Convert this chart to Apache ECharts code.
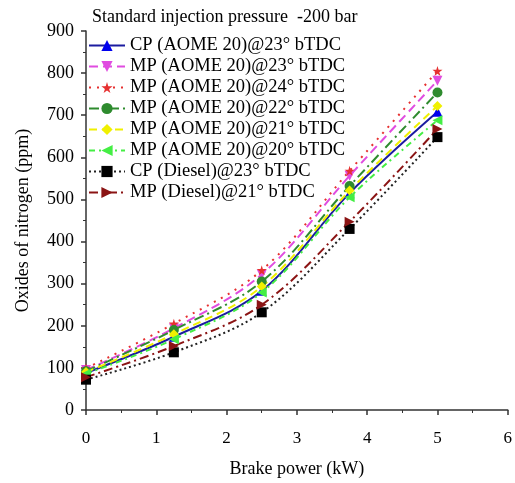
<!DOCTYPE html>
<html>
<head>
<meta charset="utf-8">
<script src="https://cdn.jsdelivr.net/npm/echarts@6/dist/echarts.min.js"></script>
<style>
  html, body { margin: 0; padding: 0; background: #fff; }
  #chart { width: 515px; height: 483px; }
</style>
</head>
<body>
<div id="chart"></div>
<script>
// brake power (kW) and NOx (ppm)
const brakePower = [0, 1.25, 2.5, 3.75, 5];
const cpAome23 = [88, 174, 283, 515, 708];
const mpAome23 = [95, 194, 322, 556, 782];
const mpAome24 = [99, 205, 332, 568, 805];
const mpAome22 = [92, 190, 305, 532, 754];
const mpAome21 = [90, 180, 293, 521, 722];
const mpAome20 = [86, 168, 279, 505, 688];
const cpDiesel23 = [72, 137, 232, 430, 648];
const mpDiesel21 = [78, 152, 250, 447, 667];

const FONT = '"Liberation Serif", "Times New Roman", serif';
const STAR = 'path://M50,0 L61,35 L98,35 L68,57 L79,91 L50,70 L21,91 L32,57 L2,35 L39,35 Z';

function pairs(ys) {
  return brakePower.map((x, i) => [x, ys[i]]);
}

function line(name, ys, color, dash, symbol, rotate, markerColor) {
  return {
    name: name,
    type: 'line',
    data: pairs(ys),
    smooth: 0.35,
    symbol: symbol,
    symbolSize: 10,
    symbolRotate: rotate,
    lineStyle: { color: color, width: 2, type: dash },
    itemStyle: { color: markerColor || color },
  };
}

const series = [
  line('CP (AOME 20)@23° bTDC', cpAome23, '#1c1ca0', 'solid', 'triangle', 0, '#0000ee'),
  line('MP (AOME 20)@23° bTDC', mpAome23, '#e04ce0', [9, 5], 'triangle', 180),
  line('MP (AOME 20)@24° bTDC', mpAome24, '#e63030', [2, 6], STAR, 0),
  line('MP (AOME 20)@22° bTDC', mpAome22, '#2e8b2e', [10, 4, 2, 4], 'circle', 0),
  line('MP (AOME 20)@21° bTDC', mpAome21, '#f0f000', [8, 5], 'diamond', 0),
  line('MP (AOME 20)@20° bTDC', mpAome20, '#44ee44', [6, 4, 2, 4], 'triangle', 90),
  line('CP (Diesel)@23° bTDC', cpDiesel23, '#222222', [2, 3], 'rect', 0, '#000000'),
  line('MP (Diesel)@21° bTDC', mpDiesel21, '#8b1414', [9, 4, 2, 4], 'triangle', -90),
];

const chart = echarts.init(document.getElementById('chart'), null, { renderer: 'canvas' });
chart.setOption({
  backgroundColor: '#ffffff',
  animation: false,
  textStyle: { fontFamily: FONT },
  title: {
    text: 'Standard injection pressure  -200 bar',
    left: 87,
    top: 3,
    textStyle: { fontFamily: FONT, fontSize: 18, fontWeight: 'normal', color: '#000' },
  },
  legend: {
    orient: 'vertical',
    left: 83,
    top: 31,
    itemWidth: 36,
    itemHeight: 14,
    itemGap: 2,
    textStyle: { fontFamily: FONT, fontSize: 18.5, color: '#000' },
    data: series.map(s => s.name),
  },
  grid: { left: 86, right: 5, top: 31, bottom: 71 },
  xAxis: {
    type: 'value',
    min: 0,
    max: 6,
    interval: 1,
    name: 'Brake power (kW)',
    nameLocation: 'middle',
    nameGap: 50,
    nameTextStyle: { fontFamily: FONT, fontSize: 18, color: '#000' },
    axisLine: { lineStyle: { color: '#333', width: 1.5 } },
    axisTick: { length: 5, lineStyle: { color: '#333', width: 1.5 } },
    minorTick: { show: true, splitNumber: 2, length: 3, lineStyle: { color: '#333' } },
    axisLabel: { fontFamily: FONT, fontSize: 17, color: '#000', margin: 20 },
    splitLine: { show: false },
  },
  yAxis: {
    type: 'value',
    min: 0,
    max: 900,
    interval: 100,
    name: 'Oxides of nitrogen (ppm)',
    nameLocation: 'middle',
    nameGap: 54,
    nameTextStyle: { fontFamily: FONT, fontSize: 18, color: '#000' },
    axisLine: { show: true, lineStyle: { color: '#333', width: 1.5 } },
    axisTick: { show: true, length: 5, lineStyle: { color: '#333', width: 1.5 } },
    minorTick: { show: true, splitNumber: 2, length: 3, lineStyle: { color: '#333' } },
    axisLabel: { fontFamily: FONT, fontSize: 18, color: '#000', margin: 12 },
    splitLine: { show: false },
  },
  series: series,
});
</script>
</body>
</html>
